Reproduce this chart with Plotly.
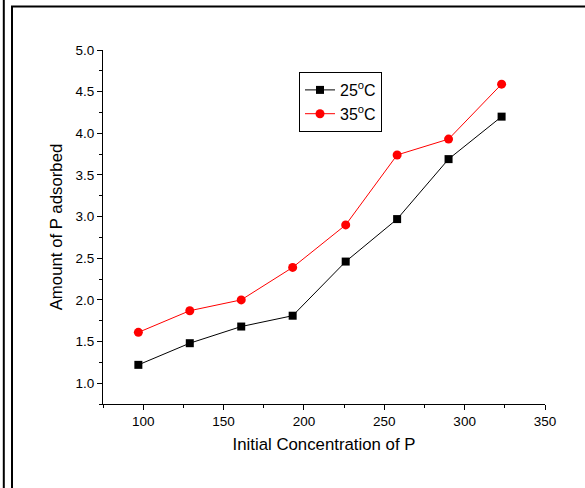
import plotly.graph_objects as go

conc = [97, 129, 161, 193, 226, 258, 290, 323]
amount_25 = [1.22, 1.48, 1.68, 1.81, 2.46, 2.97, 3.69, 4.20]
amount_35 = [1.61, 1.87, 2.00, 2.39, 2.90, 3.74, 3.93, 4.59]
series_names = ["25<sup>o</sup>C", "35<sup>o</sup>C"]

FONT = "Liberation Sans, Arial, sans-serif"

fig = go.Figure()
fig.add_trace(go.Scatter(x=conc, y=amount_25, mode="lines+markers", name=series_names[0],
                         line=dict(color="black", width=1),
                         marker=dict(symbol="square", size=8, color="black")))
fig.add_trace(go.Scatter(x=conc, y=amount_35, mode="lines+markers", name=series_names[1],
                         line=dict(color="#ff0000", width=1),
                         marker=dict(symbol="circle", size=9, color="#ff0000")))

L, R, T, B = 103, 40, 50, 84
W, H = 585, 488
pw, ph = W - L - R, H - T - B

def fx(p):
    return (p - L) / pw

def fy(p):
    return (H - B - p) / ph

fig.update_layout(
    width=W, height=H,
    margin=dict(l=L, r=R, t=T, b=B, pad=0),
    paper_bgcolor="white", plot_bgcolor="white",
    font=dict(family=FONT, size=13.5, color="black"),
    showlegend=True,
    legend=dict(x=fx(299), y=fy(72), xanchor="left", yanchor="top",
                bordercolor="black", borderwidth=1, bgcolor="white",
                font=dict(size=16, family=FONT), itemwidth=30,
                tracegroupgap=0),
    xaxis=dict(range=[75, 350], tick0=0, dtick=50, ticks="outside", ticklen=5,
               tickwidth=1, tickcolor="black", showline=True, linecolor="black",
               linewidth=1, showgrid=False, zeroline=False,
               minor=dict(dtick=25, tick0=0, ticks="outside", ticklen=3, tickcolor="black", showgrid=False),
               tickfont=dict(size=13.5, family=FONT),
               title=dict(text="Initial Concentration of P", font=dict(size=16.8, family=FONT), standoff=10)),
    yaxis=dict(range=[0.75, 5.0], tick0=0, dtick=0.5, tickformat=".1f", ticks="outside", ticklen=5,
               tickwidth=1, tickcolor="black", showline=True, linecolor="black",
               linewidth=1, showgrid=False, zeroline=False,
               minor=dict(dtick=0.25, tick0=0, ticks="outside", ticklen=3, tickcolor="black", showgrid=False),
               tickfont=dict(size=13.5, family=FONT),
               title=dict(text="Amount of P adsorbed", font=dict(size=16.8, family=FONT), standoff=8)),
)

# frame lines around the picture
shapes = [
    dict(type="line", xref="paper", yref="paper", x0=fx(3.8), x1=fx(3.8), y0=fy(-5), y1=fy(495),
         line=dict(color="black", width=2)),
    dict(type="line", xref="paper", yref="paper", x0=fx(12), x1=fx(12), y0=fy(6), y1=fy(495),
         line=dict(color="black", width=2)),
    dict(type="line", xref="paper", yref="paper", x0=fx(11), x1=fx(590), y0=fy(6.5), y1=fy(6.5),
         line=dict(color="black", width=2)),
]
fig.update_layout(shapes=shapes)

fig.write_html("out.html",
               config={"displayModeBar": False},
               post_script="document.body.style.margin='0';document.body.style.overflow='hidden';")
